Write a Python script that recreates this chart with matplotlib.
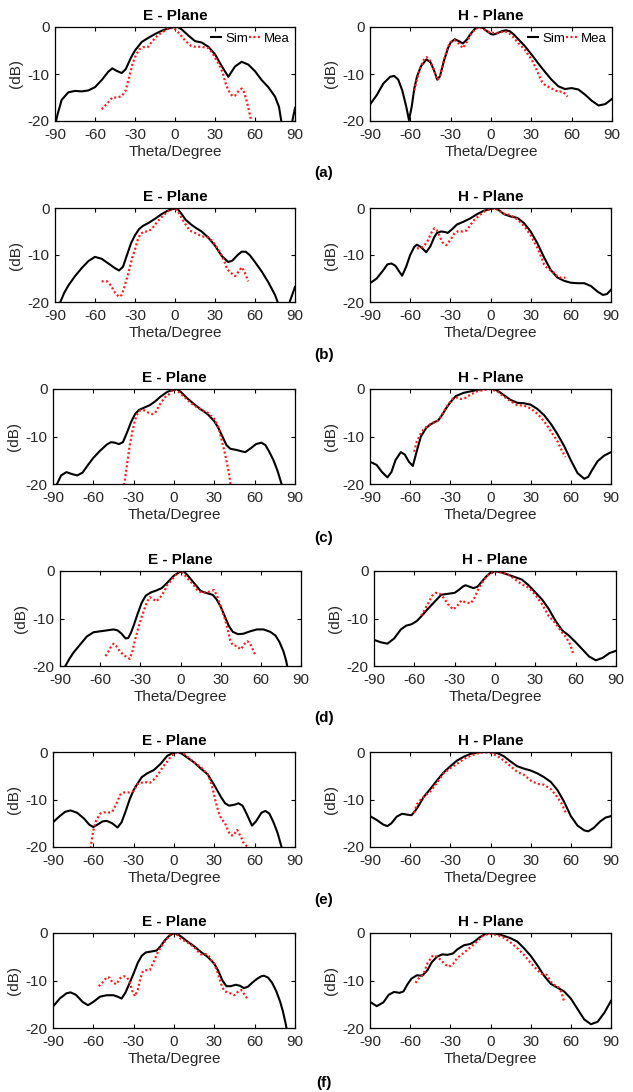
import matplotlib
matplotlib.use("Agg")
import matplotlib.pyplot as plt
from matplotlib.lines import Line2D

plt.rcParams["font.family"] = ["Liberation Sans", "DejaVu Sans"]
plt.rcParams["axes.unicode_minus"] = False

# ---------------- (a) ----------------
a_e_sim_theta = [-90, -88, -85, -80, -75, -70, -65, -60, -55, -50, -47, -44, -40, -37, -33, -30, -25, -20, -15, -10, -5, 0, 2, 5, 10, 15, 20, 25, 30, 35, 40, 45, 50, 55, 60, 65, 70, 75, 78, 80, 83, 86, 88, 90]
a_e_sim_db = [-21, -18.5, -15.5, -13.9, -13.6, -13.7, -13.5, -12.8, -11.3, -9.5, -8.8, -9.3, -9.8, -9.0, -6.5, -5.0, -3.2, -2.3, -1.5, -0.8, -0.3, 0, 0, -0.5, -1.8, -3.0, -3.3, -4.2, -5.8, -8.3, -10.6, -8.4, -7.4, -8.0, -9.4, -11.3, -12.8, -14.8, -17.0, -20.5, -24, -23, -20, -17.2]
a_e_mea_theta = [-55, -50, -47, -43, -40, -37, -35, -32, -30, -27, -24, -20, -17, -13, -10, -6, -3, -1, 2, 5, 8, 12, 15, 20, 25, 28, 31, 34, 36, 38, 40, 43, 45, 48, 50, 52, 54, 56, 58]
a_e_mea_db = [-17.5, -16, -15, -15, -14.7, -13.5, -11.3, -8, -6.4, -4.8, -4.3, -4.2, -3, -1.8, -1.2, -0.5, 0, -0.2, -1, -2, -3, -4, -4.2, -4.2, -4.5, -5.5, -7, -8.5, -10, -12, -13.5, -14.7, -14.6, -13.5, -13.1, -14, -16, -18.5, -21]

a_h_sim_theta = [-90, -85, -80, -75, -72, -69, -66, -63, -61, -59, -57, -55, -52, -48, -45, -42, -40, -38, -35, -32, -30, -27, -24, -21, -18, -15, -12, -9, -6, -3, 0, 2, 5, 8, 11, 14, 17, 20, 25, 30, 35, 40, 45, 50, 55, 60, 65, 70, 75, 80, 85, 90]
a_h_sim_db = [-16.5, -14.5, -12, -10.6, -10.4, -11.2, -13.5, -17, -19.8, -17, -13, -10.5, -8.3, -6.9, -7.5, -9.5, -11.2, -10.5, -7.2, -4.5, -3.3, -2.6, -3, -3.5, -2.7, -1.4, -0.4, 0, -0.2, -0.9, -1.5, -1.6, -1.3, -0.9, -0.7, -0.9, -1.6, -2.5, -4, -5.8, -7.7, -9.5, -11.2, -12.6, -13.2, -13, -13.3, -14.4, -15.7, -16.7, -16.4, -15.3]
a_h_mea_theta = [-57, -55, -52, -50, -48, -46, -43, -40, -38, -35, -32, -30, -27, -24, -21, -18, -15, -12, -9, -6, -3, 0, 3, 6, 10, 13, 16, 20, 25, 30, 33, 36, 38, 40, 43, 46, 50, 53, 55, 57]
a_h_mea_db = [-13.5, -11, -8.2, -7, -6.4, -6.8, -8.8, -11.3, -10.5, -7, -4.2, -3.2, -2.8, -3.5, -4.5, -3.2, -1.6, -0.5, 0, -0.4, -0.9, -1.2, -1.3, -1.2, -0.9, -1.2, -2, -3.3, -4.8, -6.8, -8.5, -10.5, -11.7, -12.3, -12.8, -13.2, -13.8, -13.7, -14.2, -14.8]

# ---------------- (b) ----------------
b_e_sim_theta = [-90, -86, -83, -80, -75, -70, -65, -60, -55, -50, -45, -42, -39, -36, -33, -30, -27, -24, -20, -15, -10, -5, 0, 2, 5, 8, 12, 16, 20, 25, 30, 35, 40, 43, 47, 50, 53, 56, 60, 65, 70, 75, 77, 80, 83, 86, 90]
b_e_sim_db = [-24, -20, -18, -16.5, -14.5, -12.8, -11.3, -10.4, -10.8, -11.8, -12.8, -13.3, -12.5, -10, -7.5, -5.8, -4.5, -3.8, -3.2, -2.3, -1.3, -0.5, -0.1, -0.2, -1.3, -2.5, -3.5, -4.3, -5, -6.3, -8, -10.2, -11.5, -11.2, -10, -9.3, -9.3, -10, -11.5, -13.5, -15.8, -18.5, -20, -23, -23, -20, -16.8]
b_e_mea_theta = [-55, -51, -48, -45, -42, -40, -38, -35, -32, -30, -28, -26, -23, -20, -17, -14, -10, -6, -3, -1, 2, 5, 8, 11, 15, 20, 25, 28, 31, 34, 37, 39, 42, 45, 47, 50, 52, 55]
b_e_mea_db = [-15.6, -15.6, -16.5, -18, -18.9, -18.5, -16.8, -13.8, -10.5, -8.8, -6.8, -5.5, -5, -5, -4.3, -3.2, -1.9, -0.9, -0.2, 0, -0.6, -2.2, -3.5, -4.8, -5.3, -6, -6.3, -7, -8.2, -9.5, -11.3, -13, -13.8, -14.5, -13.8, -12.6, -13.5, -15.6]

b_h_sim_theta = [-90, -85, -80, -77, -74, -71, -68, -66, -63, -60, -57, -55, -52, -48, -45, -42, -40, -37, -34, -32, -29, -25, -20, -15, -10, -5, 0, 3, 6, 10, 15, 20, 25, 30, 35, 40, 45, 50, 55, 60, 65, 70, 75, 80, 84, 87, 90]
b_h_sim_db = [-16, -15, -13.2, -12, -11.8, -12.3, -13.6, -14.4, -12.5, -10, -8.3, -7.8, -8.3, -9.4, -8.2, -6.2, -5.3, -5, -5.1, -5.3, -4.6, -3.5, -2.9, -2.2, -1.3, -0.6, -0.2, 0, -0.4, -1.3, -1.8, -2.1, -3.2, -5, -7.5, -10.5, -13.2, -14.8, -15.5, -15.9, -16, -16, -16.6, -17.8, -18.5, -18.3, -17.4]
b_h_mea_theta = [-55, -52, -50, -47, -44, -42, -40, -38, -36, -33, -30, -27, -24, -21, -18, -15, -12, -8, -4, 0, 3, 6, 10, 15, 20, 25, 30, 35, 38, 40, 43, 46, 50, 53, 56]
b_h_mea_db = [-8.6, -8.5, -8.2, -7, -5.2, -4.3, -4.8, -6, -7.3, -7.9, -6.8, -5.4, -4.9, -5, -4.8, -3.6, -2.5, -1.5, -0.6, -0.2, 0, -0.5, -1.2, -1.5, -2.4, -3.8, -5.8, -8.5, -10.5, -12, -13, -13.4, -14.5, -14.9, -14.8]

# ---------------- (c) ----------------
c_e_sim_theta = [-90, -87, -84, -80, -76, -72, -68, -64, -60, -55, -50, -47, -44, -41, -38, -35, -32, -29, -26, -22, -18, -14, -10, -5, 0, 2, 5, 10, 15, 20, 25, 30, 33, 36, 39, 42, 46, 50, 53, 57, 61, 65, 68, 71, 74, 77, 80, 82]
c_e_sim_db = [-23, -20, -18.2, -17.5, -17.9, -18.2, -17.6, -16, -14.5, -13, -11.7, -11.2, -11.3, -11.6, -11.2, -9.2, -7, -5.3, -4.4, -3.9, -3.4, -2.6, -1.6, -0.6, -0.1, 0, -0.6, -2, -3.2, -4.3, -5.3, -6.8, -8.2, -10, -11.8, -12.6, -12.8, -13.1, -13.3, -12.5, -11.6, -11.3, -11.8, -13.3, -15, -17.2, -20, -23]
c_e_mea_theta = [-38, -37, -35, -33, -31, -29, -27, -25, -22, -19, -16, -14, -12, -10, -7, -4, -2, 0, 3, 5, 10, 15, 20, 25, 30, 33, 35, 37, 39, 41, 42, 43]
c_e_mea_db = [-23, -20, -16, -12, -9, -6.5, -5, -4.5, -4.5, -5, -5.3, -5, -4, -3, -1.8, -1.2, -0.5, 0, -0.5, -1, -2.3, -3.5, -4.3, -5, -6.3, -8, -10.3, -12.5, -15, -18, -20, -22]

c_h_sim_theta = [-90, -85, -81, -77, -74, -71, -67, -64, -61, -58, -55, -52, -48, -45, -42, -39, -36, -33, -30, -26, -20, -15, -10, -5, 0, 3, 6, 10, 15, 20, 25, 30, 35, 40, 45, 50, 55, 60, 65, 70, 73, 76, 80, 85, 90]
c_h_sim_db = [-15.3, -16, -17.5, -18.6, -17.5, -15, -13.3, -13.8, -15.3, -16.2, -13, -10, -8.2, -7.5, -7, -6.6, -5.4, -4, -2.8, -1.5, -0.8, -0.5, -0.2, 0, 0, -0.1, -0.5, -1.3, -2.3, -2.9, -3, -3.3, -4.2, -5.5, -7.3, -9.5, -12, -15, -17.7, -18.9, -18.5, -17, -15.2, -14, -13.3]
c_h_mea_theta = [-57, -55, -52, -50, -47, -44, -40, -37, -34, -31, -28, -25, -22, -19, -15, -10, -5, 0, 5, 10, 15, 20, 25, 30, 35, 40, 43, 46, 50, 53, 56]
c_h_mea_db = [-13.2, -11, -9.3, -8.5, -7.8, -7.2, -6.8, -5.8, -4.3, -3, -2, -1.8, -2.1, -1.9, -1.2, -0.5, -0.2, 0, -0.5, -1.6, -2.6, -3.4, -3.5, -4.1, -5.2, -6.8, -8, -9.3, -11, -12.8, -14.3]

# ---------------- (d) ----------------
d_e_sim_theta = [-90, -86, -83, -80, -75, -70, -65, -60, -55, -50, -47, -44, -41, -39, -37, -35, -32, -29, -26, -22, -18, -14, -10, -5, 0, 2, 5, 10, 15, 20, 24, 27, 30, 33, 36, 39, 43, 47, 52, 57, 62, 67, 71, 74, 77, 79, 80, 82]
d_e_sim_db = [-23, -20, -18.5, -17.2, -15.5, -13.8, -12.9, -12.7, -12.5, -12.3, -12.5, -13.2, -14.2, -14.1, -13, -11.5, -9, -6.7, -5.2, -4.5, -4.1, -3.6, -2.5, -1, -0.1, 0, -0.8, -2.5, -4.2, -4.7, -5, -6, -7.5, -9.5, -11.5, -12.8, -13.3, -13.2, -12.7, -12.3, -12.3, -12.8, -13.6, -15, -17, -19, -20.5, -23]
d_e_mea_theta = [-56, -54, -52, -50, -48, -45, -42, -40, -38, -36, -34, -32, -30, -27, -25, -23, -20, -18, -15, -12, -10, -7, -4, -1, 1, 5, 10, 13, 17, 20, 23, 25, 27, 30, 33, 35, 37, 39, 42, 45, 48, 50, 52, 54, 56]
d_e_mea_db = [-17.9, -17, -16, -15.3, -15.8, -17, -17.8, -18.1, -18.5, -17, -14.5, -12.5, -10.5, -8, -6.5, -5.5, -6, -6.4, -5.5, -4.2, -3, -2, -1, 0, -0.2, -1.5, -3, -4.2, -4.6, -4.5, -4.2, -4, -5, -7.5, -10, -12, -14.5, -15.6, -15.8, -16.5, -15.3, -14.8, -15.3, -16.5, -17.8]

d_h_sim_theta = [-90, -85, -80, -75, -70, -66, -62, -58, -55, -50, -45, -40, -35, -30, -27, -24, -22, -19, -16, -13, -10, -7, -4, 0, 5, 10, 15, 20, 25, 30, 35, 40, 45, 50, 55, 60, 65, 70, 75, 80, 85, 90]
d_h_sim_db = [-14.5, -15, -15.3, -14.2, -12.3, -11.5, -11.2, -10.5, -9.6, -8, -6.5, -5, -4.8, -4.6, -4, -3.3, -3, -3.3, -3.6, -3.3, -2.3, -1.3, -0.5, 0, -0.3, -0.8, -1.3, -1.8, -3, -4.5, -6, -8, -10.5, -12.5, -13.6, -15, -16.5, -18, -18.8, -18.3, -17.3, -16.8]
d_h_mea_theta = [-55, -52, -50, -47, -44, -41, -38, -35, -31, -28, -25, -22, -18, -15, -12, -8, -5, 0, 5, 10, 15, 20, 25, 30, 35, 40, 45, 50, 53, 56, 58]
d_h_mea_db = [-9.4, -8, -7, -5.3, -4.6, -4.8, -5.7, -7, -8.1, -7.3, -6.2, -6.6, -6.8, -5.5, -3.5, -1.8, -0.8, -0.1, -0.3, -0.8, -1.8, -2.8, -3.5, -5, -7, -9.5, -11, -13, -14, -15.5, -17.3]

# ---------------- (e) ----------------
e_e_sim_theta = [-90, -85, -81, -77, -72, -67, -63, -60, -57, -53, -50, -46, -42, -39, -36, -33, -30, -27, -24, -20, -15, -10, -5, 0, 3, 6, 10, 15, 20, 25, 30, 35, 38, 41, 45, 48, 51, 54, 58, 61, 65, 68, 71, 74, 77, 80, 82]
e_e_sim_db = [-14.8, -13.5, -12.6, -12.3, -12.8, -14, -15.3, -15.8, -15.3, -14.6, -14.5, -15, -15.9, -14.8, -12.5, -10, -8, -6.6, -5.3, -4.5, -3.8, -2.5, -0.8, -0.1, 0, -0.4, -1.2, -2.2, -3.5, -4.7, -7, -9.5, -10.8, -11.3, -11.1, -10.8, -11.3, -13, -15.5, -14.6, -12.8, -12.4, -13, -14.8, -17, -20, -23]
e_e_mea_theta = [-64, -62, -60, -58, -55, -52, -49, -46, -43, -40, -37, -33, -30, -27, -22, -18, -15, -12, -8, -5, -2, 1, 3, 5, 8, 10, 15, 20, 25, 27, 29, 31, 33, 35, 38, 40, 42, 44, 47, 50, 52, 54, 57]
e_e_mea_db = [-23, -20, -16.5, -14.5, -13, -12.7, -12.8, -12.6, -11, -9, -8.5, -8.5, -8.2, -6.7, -6.3, -6.5, -5.8, -4.8, -3, -2, -0.8, -0.2, 0, 0, -0.5, -1, -2.2, -3.2, -4.7, -6, -8, -10.5, -12.5, -14, -15, -16.5, -17.5, -17.6, -16.4, -18, -19.3, -19.8, -20.5]

e_h_sim_theta = [-90, -85, -80, -77, -74, -70, -66, -62, -59, -56, -53, -50, -45, -40, -35, -30, -25, -20, -15, -10, -5, 0, 5, 10, 15, 20, 25, 30, 35, 40, 45, 50, 55, 60, 65, 70, 73, 77, 82, 86, 90]
e_h_sim_db = [-13.5, -14.3, -15.3, -15.6, -15, -13.6, -13, -13.2, -13.3, -12.3, -11, -9.5, -7.8, -6, -4.3, -3, -1.8, -1, -0.4, -0.1, 0, 0, -0.2, -0.9, -2, -3, -3.5, -3.9, -4.5, -5.3, -6.3, -8, -10.5, -13.5, -15.5, -16.5, -16.7, -16, -14.6, -13.8, -13.5]
e_h_mea_theta = [-57, -55, -52, -48, -45, -40, -35, -30, -25, -20, -15, -10, -5, 0, 5, 10, 15, 20, 25, 30, 35, 40, 45, 50, 53, 56]
e_h_mea_db = [-12.8, -11, -10, -9, -8.3, -6.5, -4.5, -3.4, -2.5, -1.5, -0.8, -0.3, 0, -0.2, -0.8, -1.8, -3, -4.2, -4.8, -6, -6.7, -6.9, -7.8, -9.5, -10.8, -12.7]

# ---------------- (f) ----------------
f_e_sim_theta = [-90, -85, -80, -77, -73, -68, -64, -60, -55, -50, -45, -42, -39, -36, -33, -30, -27, -24, -21, -17, -13, -10, -7, -4, 0, 3, 6, 10, 15, 20, 25, 30, 33, 36, 39, 42, 46, 49, 52, 55, 58, 62, 65, 67, 70, 73, 76, 79, 81, 83, 84, 85]
f_e_sim_db = [-15.5, -13.8, -12.7, -12.5, -13, -14.5, -15.2, -14.5, -13.4, -13.1, -13.1, -13.4, -13.8, -12.5, -10.5, -8.5, -6.3, -4.8, -4.1, -3.9, -3.7, -2.8, -1.6, -0.7, 0, -0.3, -0.9, -1.8, -2.8, -4, -5, -6.5, -8, -10, -11.2, -11.2, -10.9, -11.1, -11.6, -11.3, -10.5, -9.6, -9.1, -9, -9.4, -10.5, -12.2, -14.5, -16.5, -19, -20.5, -22]
f_e_mea_theta = [-56, -54, -52, -50, -48, -46, -43, -40, -37, -35, -33, -31, -29, -27, -25, -23, -20, -18, -15, -12, -8, -5, -2, 0, 3, 5, 10, 15, 20, 22, 25, 28, 30, 32, 34, 36, 38, 40, 43, 45, 47, 50, 52, 55]
f_e_mea_db = [-11.2, -10.7, -10, -9.3, -9.4, -10.3, -10.8, -9.5, -9.1, -9.3, -10.3, -12.2, -13.3, -12, -9.5, -8, -7.8, -7.8, -6, -4, -2.2, -1.2, 0, 0, -0.5, -1.2, -2, -3, -4.5, -4.4, -4.5, -5.8, -6.5, -8, -9.8, -11.5, -12.3, -12.5, -12.8, -13.1, -12.5, -12, -12.8, -14]

f_h_sim_theta = [-90, -85, -80, -76, -72, -68, -65, -62, -59, -55, -51, -47, -44, -40, -36, -32, -28, -25, -20, -15, -12, -8, -4, 0, 5, 10, 15, 20, 25, 30, 35, 40, 45, 50, 55, 60, 65, 70, 75, 80, 85, 90]
f_h_sim_db = [-14.5, -15.4, -14.6, -13, -12.4, -12.6, -12.3, -10.8, -9.6, -8.9, -9, -7.8, -6.2, -5, -4.5, -4.6, -4.3, -3.5, -2.6, -2.3, -1.8, -0.9, -0.2, 0, -0.2, -0.6, -1.1, -1.8, -3.2, -4.8, -6.8, -9, -10.7, -11.5, -12.3, -13.8, -16, -18.2, -19.2, -18.7, -16.8, -14.3]
f_h_mea_theta = [-56, -53, -50, -47, -43, -40, -37, -34, -31, -28, -25, -20, -15, -10, -5, 0, 5, 10, 15, 20, 25, 30, 35, 38, 42, 45, 48, 51, 53, 55]
f_h_mea_db = [-10.5, -9.3, -8.6, -6.3, -4.7, -5, -5.7, -6.6, -7.1, -6.5, -5.3, -4.2, -3, -1.8, -0.4, -0.2, -0.4, -1, -2, -3.2, -4.6, -6.3, -7.8, -8.6, -8.8, -10.2, -11, -11.5, -12.5, -14.5]

row_labels = ["(a)", "(b)", "(c)", "(d)", "(e)", "(f)"]
plane_titles = ["E - Plane", "H - Plane"]
x_ticks = [-90, -60, -30, 0, 30, 60, 90]
y_ticks = [-20, -10, 0]

rows = [
    ((a_e_sim_theta, a_e_sim_db, a_e_mea_theta, a_e_mea_db), (a_h_sim_theta, a_h_sim_db, a_h_mea_theta, a_h_mea_db)),
    ((b_e_sim_theta, b_e_sim_db, b_e_mea_theta, b_e_mea_db), (b_h_sim_theta, b_h_sim_db, b_h_mea_theta, b_h_mea_db)),
    ((c_e_sim_theta, c_e_sim_db, c_e_mea_theta, c_e_mea_db), (c_h_sim_theta, c_h_sim_db, c_h_mea_theta, c_h_mea_db)),
    ((d_e_sim_theta, d_e_sim_db, d_e_mea_theta, d_e_mea_db), (d_h_sim_theta, d_h_sim_db, d_h_mea_theta, d_h_mea_db)),
    ((e_e_sim_theta, e_e_sim_db, e_e_mea_theta, e_e_mea_db), (e_h_sim_theta, e_h_sim_db, e_h_mea_theta, e_h_mea_db)),
    ((f_e_sim_theta, f_e_sim_db, f_e_mea_theta, f_e_mea_db), (f_h_sim_theta, f_h_sim_db, f_h_mea_theta, f_h_mea_db)),
]

# panel boxes in pixels: (left, top, right, bottom)
W, H = 633, 1092
boxes = [
    [(55, 27, 295, 121), (370, 27, 612, 121)],
    [(55, 208, 295, 302), (370, 208, 611, 302)],
    [(53, 389, 295, 484), (370, 389, 611, 484)],
    [(60, 571, 301, 666), (374, 571, 616, 666)],
    [(53, 752, 295, 847), (370, 752, 611, 847)],
    [(53, 933, 295, 1028), (370, 933, 611, 1028)],
]
label_y = [173, 355, 538, 718, 900, 1083]

fig = plt.figure(figsize=(W / 100, H / 100), dpi=100)
tick_color = "#262626"
red = "#ff1a1a"
dots = (0, (0.9, 1.1))

for r, (row, row_boxes) in enumerate(zip(rows, boxes)):
    for c, (series, box) in enumerate(zip(row, row_boxes)):
        l, t, rr, b = box
        ax = fig.add_axes([l / W, 1 - b / H, (rr - l) / W, (b - t) / H])
        sim_t, sim_v, mea_t, mea_v = series
        ax.plot(sim_t, sim_v, color="black", lw=1.5, label="Sim")
        ax.plot(mea_t, mea_v, color=red, lw=1.6, linestyle=dots, label="Mea")
        ax.set_xlim(-90, 90)
        ax.set_ylim(-20, 0)
        ax.set_xticks(x_ticks)
        ax.set_yticks(y_ticks)
        ax.tick_params(direction="in", length=3, width=0.8, top=True, right=True,
                       labelsize=11, colors="black", labelcolor=tick_color)
        ax.tick_params(axis="x", pad=5)
        ax.tick_params(axis="y", pad=4)
        for sp in ax.spines.values():
            sp.set_linewidth(0.9)
        ax.set_xlabel("Theta/Degree", fontsize=11, color=tick_color, labelpad=2)
        ax.set_ylabel("(dB)", fontsize=11, color=tick_color, labelpad=3)
        ax.set_title(plane_titles[c], fontsize=11, fontweight="bold", pad=5)
        if r == 0:
            handles = [Line2D([], [], color="black", lw=1.5),
                       Line2D([], [], color=red, lw=1.6, linestyle=dots)]
            ax.legend(handles, ["Sim", "Mea"], loc="upper right", ncol=2, frameon=False,
                      fontsize=9.5, handlelength=0.8, handletextpad=0.3, columnspacing=0.1,
                      borderaxespad=0.2, borderpad=0.2)
    fig.text(324 / W, 1 - label_y[r] / H, row_labels[r], ha="center", va="center",
             fontsize=11, fontweight="bold")

fig.savefig("out.png", dpi=100)
